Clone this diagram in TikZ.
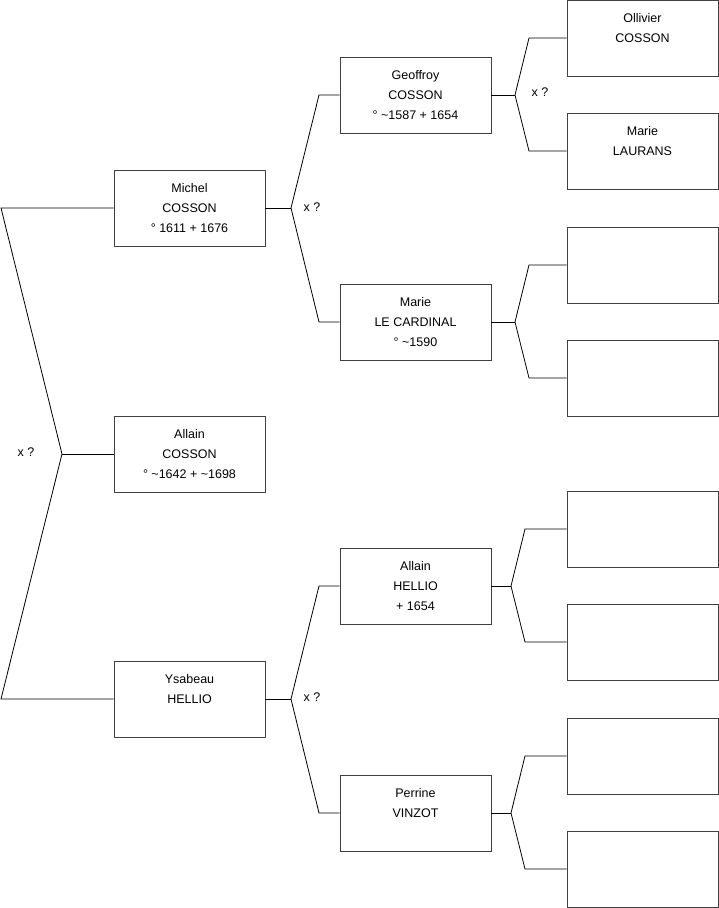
\documentclass[tikz,border=0pt]{standalone}
\usepackage{fontspec}
\setmainfont{Liberation Sans}
\usetikzlibrary{positioning}

\begin{document}
\begin{tikzpicture}[
x=1pt, y=-1pt,
person/.style={
    rectangle,
    draw=black!75,
    line width=0.8pt,
    minimum width=151pt,
    minimum height=76pt,
    align=center,
    fill=white,
    font=\fontsize{12.5}{20}\selectfont
},
link/.style={line width=0.8pt, black},
unsure/.style={font=\fontsize{12.5}{15}\selectfont, inner sep=0pt}
]
\useasboundingbox (0,0) rectangle (719,908);

% generation 1
\node[person] (allainC) at (189.5,454) {Allain\\COSSON\\° \textasciitilde1642 + \textasciitilde1698};
\node[person] (michel) at (189.5,208) {Michel\\COSSON\\° 1611 + 1676};
\node[person] (ysabeau) at (189.5,699) {Ysabeau\\HELLIO\\\mbox{}};

% generation 2
\node[person] (geoffroy) at (415.5,95) {Geoffroy\\COSSON\\° \textasciitilde1587 + 1654};
\node[person] (marieLC) at (415.5,322) {Marie\\LE CARDINAL\\° \textasciitilde1590};
\node[person] (allainH) at (415.5,586) {Allain\\HELLIO\\+ 1654};
\node[person] (perrine) at (415.5,813) {Perrine\\VINZOT\\\mbox{}};

% generation 3
\node[person] (ollivier) at (642.5,38) {Ollivier\\COSSON\\\mbox{}};
\node[person] (marieL) at (642.5,151) {Marie\\LAURANS\\\mbox{}};
\node[person] (r3) at (642.5,265) {};
\node[person] (r4) at (642.5,378) {};
\node[person] (r5) at (642.5,529) {};
\node[person] (r6) at (642.5,642) {};
\node[person] (r7) at (642.5,756) {};
\node[person] (r8) at (642.5,869) {};

% forks
\coordinate (fA) at (62,454);
\coordinate (fAup) at (1,208);
\coordinate (fAdn) at (1,699);
\coordinate (fM) at (291,208);
\coordinate (fMup) at (319,95);
\coordinate (fMdn) at (319,322);
\coordinate (fY) at (291,699);
\coordinate (fYup) at (319,586);
\coordinate (fYdn) at (319,813);
\coordinate (fG) at (515,95);
\coordinate (fGup) at (529,38);
\coordinate (fGdn) at (529,151);
\coordinate (fL) at (515,322);
\coordinate (fLup) at (529,265);
\coordinate (fLdn) at (529,378);
\coordinate (fH) at (511,586);
\coordinate (fHup) at (525,529);
\coordinate (fHdn) at (525,642);
\coordinate (fP) at (511,813);
\coordinate (fPup) at (525,756);
\coordinate (fPdn) at (525,869);

\draw[link] (allainC.west) -- (fA);
\draw[link] (michel.west) -- (fAup) -- (fA) -- (fAdn) -- (ysabeau.west);
\draw[link] (michel.east) -- (fM);
\draw[link] (geoffroy.west) -- (fMup) -- (fM) -- (fMdn) -- (marieLC.west);
\draw[link] (ysabeau.east) -- (fY);
\draw[link] (allainH.west) -- (fYup) -- (fY) -- (fYdn) -- (perrine.west);
\draw[link] (geoffroy.east) -- (fG);
\draw[link] (ollivier.west) -- (fGup) -- (fG) -- (fGdn) -- (marieL.west);
\draw[link] (marieLC.east) -- (fL);
\draw[link] (r3.west) -- (fLup) -- (fL) -- (fLdn) -- (r4.west);
\draw[link] (allainH.east) -- (fH);
\draw[link] (r5.west) -- (fHup) -- (fH) -- (fHdn) -- (r6.west);
\draw[link] (perrine.east) -- (fP);
\draw[link] (r7.west) -- (fPup) -- (fP) -- (fPdn) -- (r8.west);

% unknown marriage dates
\node[unsure] (xA) at (26,452) {x ?};
\node[unsure] (xM) at (312,207) {x ?};
\node[unsure] (xY) at (312,697) {x ?};
\node[unsure] (xG) at (540,92) {x ?};
\end{tikzpicture}
\end{document}
